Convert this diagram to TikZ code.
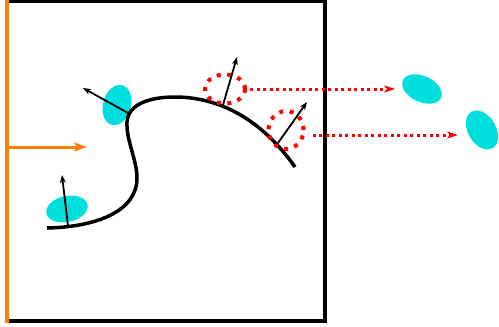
\documentclass[tikz,border=0pt]{standalone}
\usetikzlibrary{arrows.meta, shapes.geometric, positioning}
\definecolor{blobcyan}{RGB}{0,222,222}
\definecolor{wallorange}{RGB}{255,128,0}

\begin{document}
\begin{tikzpicture}[x=1pt,y=-1pt]
	\tikzset{blob/.style={ellipse, fill=blobcyan, inner sep=0pt}}
	\tikzset{probe/.style={ellipse, draw=red, line width=4pt, dash pattern=on 4pt off 6.5pt, inner sep=0pt}}
	\tikzset{normal/.style={-{Stealth[length=8pt,width=6pt]}, line width=1.8pt}}
	\tikzset{link/.style={-{Stealth[length=11pt,width=7pt,inset=3pt]}, red, line width=3pt, dash pattern=on 3pt off 3.5pt}}
		\useasboundingbox (0,0) rectangle (499,327);
		% domain and wall
		\draw[line width=3.5pt] (7,1.5) rectangle (325,321);
		\draw[wallorange, line width=4pt] (6.5,0) -- (6.5,323);
		\coordinate (w) at (7,147);
		\coordinate (wt) at (87,147);
		\draw[wallorange, line width=3pt, -{Stealth[length=13pt,width=9pt,inset=3pt]}] (w) -- (wt);
		% blobs
		\foreach \name/\x/\y/\w/\h/\a in {b1/67/209/42/26/12, b2/117/105/28/41/-15, b3/422/89/42/26/-25, b4/482/130/28/42/30}
		{\node[blob, minimum width=\w pt, minimum height=\h pt, rotate=\a] (\name) at (\x,\y) {};}
		% surface
		\draw[line width=3.5pt] (47,228) .. controls (95,227) and (137,212) .. (137,178)
			.. controls (137,160) and (126,140) .. (127,122)
			.. controls (128,104) and (150,97) .. (175,97)
			.. controls (220,97) and (262,120) .. (295,167);
		% probes
		\node[probe, minimum width=40pt, minimum height=29pt] (r1) at (225,89) {};
		\node[probe, minimum width=35pt, minimum height=38pt] (r2) at (286,130) {};
		% normals
		\foreach \name/\x/\y in {p1/68/226, p2/128/113, p3/223/105, p4/278/143} {\coordinate (\name) at (\x,\y);}
		\foreach \name/\x/\y in {t1/62/175, t2/83/88, t3/237/57, t4/307/102} {\coordinate (\name) at (\x,\y);}
		\draw[normal] (p1) -- (t1);
		\draw[normal] (p2) -- (t2);
		\draw[normal] (p3) -- (t3);
		\draw[normal] (p4) -- (t4);
		\draw[link] ([xshift=3pt]r1.east) -- ([xshift=-27pt]b3.center);
		\draw[link] ([xshift=7pt,yshift=-5pt]r2.east) -- ([xshift=-24pt,yshift=-5pt]b4.center);
	\end{tikzpicture}
\end{document}
